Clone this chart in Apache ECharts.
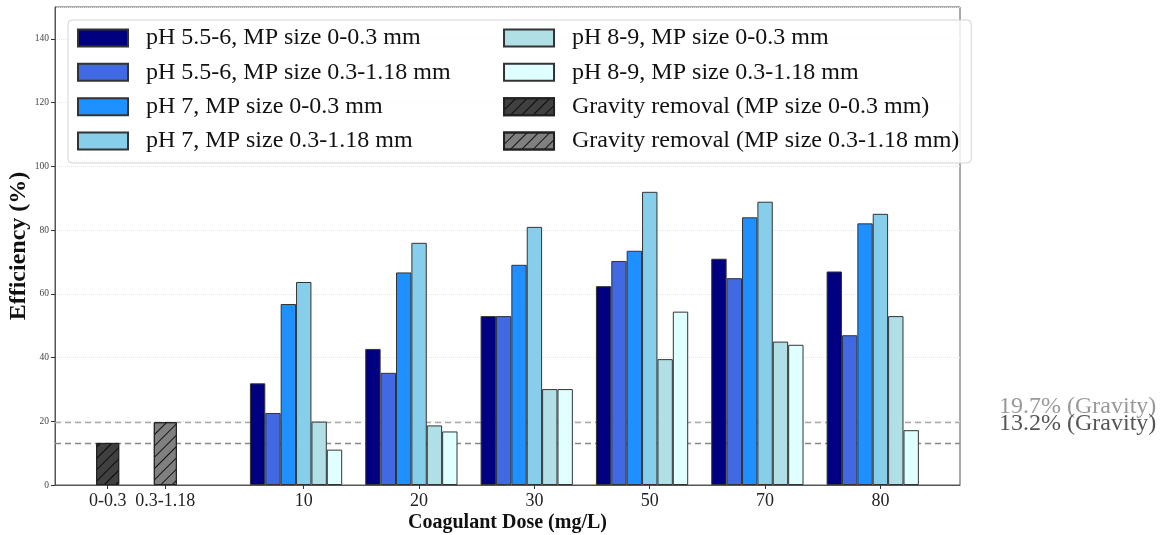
<!DOCTYPE html>
<html lang="en">
<head>
<meta charset="UTF-8">
<title>Coagulant dose vs efficiency</title>
<style>
  html, body { margin: 0; padding: 0; background: #fff; }
  #chart { width: 1162px; height: 535px; }
</style>
</head>
<body>
<div id="chart"></div>
<script src="https://cdn.jsdelivr.net/npm/echarts@6/dist/echarts.min.js"></script>
<script>
// categories
var doses = ['10', '20', '30', '50', '70', '80'];
var gravityLabels = ['0-0.3', '0.3-1.18'];
var gravityPos = [-1.7, -1.2];

// series names
var seriesNames = [
  'pH 5.5-6, MP size 0-0.3 mm',
  'pH 5.5-6, MP size 0.3-1.18 mm',
  'pH 7, MP size 0-0.3 mm',
  'pH 7, MP size 0.3-1.18 mm',
  'pH 8-9, MP size 0-0.3 mm',
  'pH 8-9, MP size 0.3-1.18 mm'
];
var gravityNames = [
  'Gravity removal (MP size 0-0.3 mm)',
  'Gravity removal (MP size 0.3-1.18 mm)'
];

// efficiency (%) per dose
var ph55Small = [31.9, 42.7, 53.0, 62.4, 71.0, 67.0];
var ph55Large = [22.6, 35.2, 53.0, 70.3, 64.9, 47.0];
var ph7Small = [56.8, 66.7, 69.1, 73.5, 84.0, 82.1];
var ph7Large = [63.7, 76.0, 81.0, 92.0, 88.9, 85.1];
var ph89Small = [19.9, 18.7, 30.1, 39.5, 45.0, 53.0];
var ph89Large = [11.1, 16.8, 30.1, 54.4, 44.0, 17.2];
var gravity = [13.2, 19.7];

var colors = ['#000080', '#4169E1', '#1E90FF', '#87CEEB', '#B0E0E6', '#E0FFFF'];
var gravityColors = ['#404040', '#808080'];

var xMin = -2.1567, xMax = 5.69;
var gridLeft = 55, gridRight = 202;
var pxPerUnit = (1162 - gridLeft - gridRight) / (xMax - xMin);
var barW = 0.8 / 6;          // in axis units
var gravW = 0.2;

var tickPos = gravityPos.concat(doses.map(function (d, i) { return i; }));
var tickLabels = gravityLabels.concat(doses);

var serif = 'Liberation Serif';

var doseData = [ph55Small, ph55Large, ph7Small, ph7Large, ph89Small, ph89Large];

var series = doseData.map(function (vals, s) {
  return {
    name: seriesNames[s],
    type: 'bar',
    xAxisIndex: 0,
    barWidth: barW * pxPerUnit,
    barGap: '0%',
    itemStyle: { color: colors[s], borderColor: '#333', borderWidth: 1 },
    data: vals.map(function (v, i) { return [i - barW / 2, v]; })
  };
});

gravity.forEach(function (v, k) {
  var s = {
    name: gravityNames[k],
    type: 'bar',
    xAxisIndex: k + 1,
    barWidth: gravW * pxPerUnit,
    itemStyle: {
      color: gravityColors[k],
      borderColor: '#222',
      borderWidth: 1,
      decal: {
        symbol: 'rect',
        symbolSize: 1,
        dashArrayX: [1, 0],
        dashArrayY: [1, 7],
        rotation: -Math.PI / 4,
        color: 'rgba(0,0,0,0.85)'
      }
    },
    data: [[gravityPos[k], v]]
  };
  if (k === 0) {
    // the empty second line lifts the text above its line
    s.markLine = {
      silent: true,
      symbol: ['none', 'none'],
      z: 1,
      lineStyle: { type: [6, 4], width: 1.3 },
      label: {
        position: 'end',
        distance: 39,
        fontFamily: serif,
        fontSize: 24,
        formatter: function (p) { return p.value + '% (Gravity)\n '; }
      },
      data: [
        { yAxis: gravity[1], lineStyle: { color: '#aaa' }, label: { color: '#999', lineHeight: 31 } },
        { yAxis: gravity[0], lineStyle: { color: '#888' }, label: { color: '#555', lineHeight: 39 } }
      ]
    };
  }
  series.push(s);
});

var hiddenX = { type: 'value', min: xMin, max: xMax, show: false };

var option = {
  animation: false,
  backgroundColor: '#fff',
  grid: {
    left: gridLeft, right: gridRight, top: 7, bottom: 50,
    containLabel: false,
    outerBoundsMode: 'none',
    show: true, borderColor: '#555', borderWidth: 1
  },
  legend: {
    orient: 'vertical',
    left: 68,
    top: 20,
    height: 140,
    padding: [6, 12, 10, 9],
    itemGap: 10.33,
    itemWidth: 50,
    itemHeight: 17,
    icon: 'rect',
    backgroundColor: 'rgba(255,255,255,0.8)',
    borderColor: '#d4d4d4',
    borderWidth: 1,
    borderRadius: 4,
    data: seriesNames.concat(gravityNames),
    textStyle: {
      fontFamily: serif,
      fontSize: 24,
      lineHeight: 24,
      color: '#111',
      width: 346.7,
      padding: [0, 0, 0, 13],
      backgroundColor: 'transparent'
    }
  },
  xAxis: [
    {
      type: 'value',
      min: xMin,
      max: xMax,
      name: 'Coagulant Dose (mg/L)',
      nameLocation: 'middle',
      nameGap: 28,
      nameMoveOverlap: false,
      nameTextStyle: { fontFamily: serif, fontSize: 20, fontWeight: 'bold', color: '#111' },
      axisLine: { onZero: false, lineStyle: { color: '#555' } },
      axisTick: { show: true, length: 4, customValues: tickPos, lineStyle: { color: '#333' } },
      axisLabel: {
        customValues: tickPos,
        margin: 7,
        fontFamily: serif,
        fontSize: 18,
        color: '#222',
        formatter: function (v) {
          var k = tickPos.indexOf(v);
          return k >= 0 ? tickLabels[k] : '';
        }
      },
      splitLine: { show: false }
    },
    hiddenX,
    hiddenX
  ],
  yAxis: {
    type: 'value',
    min: 0,
    max: 150,
    interval: 20,
    name: 'Efficiency (%)',
    nameLocation: 'middle',
    nameGap: 24,
    nameMoveOverlap: false,
    nameTextStyle: { fontFamily: serif, fontSize: 24, fontWeight: 'bold', color: '#111' },
    axisLine: { show: true, onZero: false, lineStyle: { color: '#555' } },
    axisTick: { show: true, length: 4, lineStyle: { color: '#333' } },
    axisLabel: { showMaxLabel: false, margin: 6, fontFamily: serif, fontSize: 9.5, color: '#444' },
    splitLine: { show: true, lineStyle: { color: '#e6e6e6', type: 'dotted', width: 1 } }
  },
  series: series
};

var chart = echarts.init(document.getElementById('chart'));
chart.setOption(option);
</script>
</body>
</html>
